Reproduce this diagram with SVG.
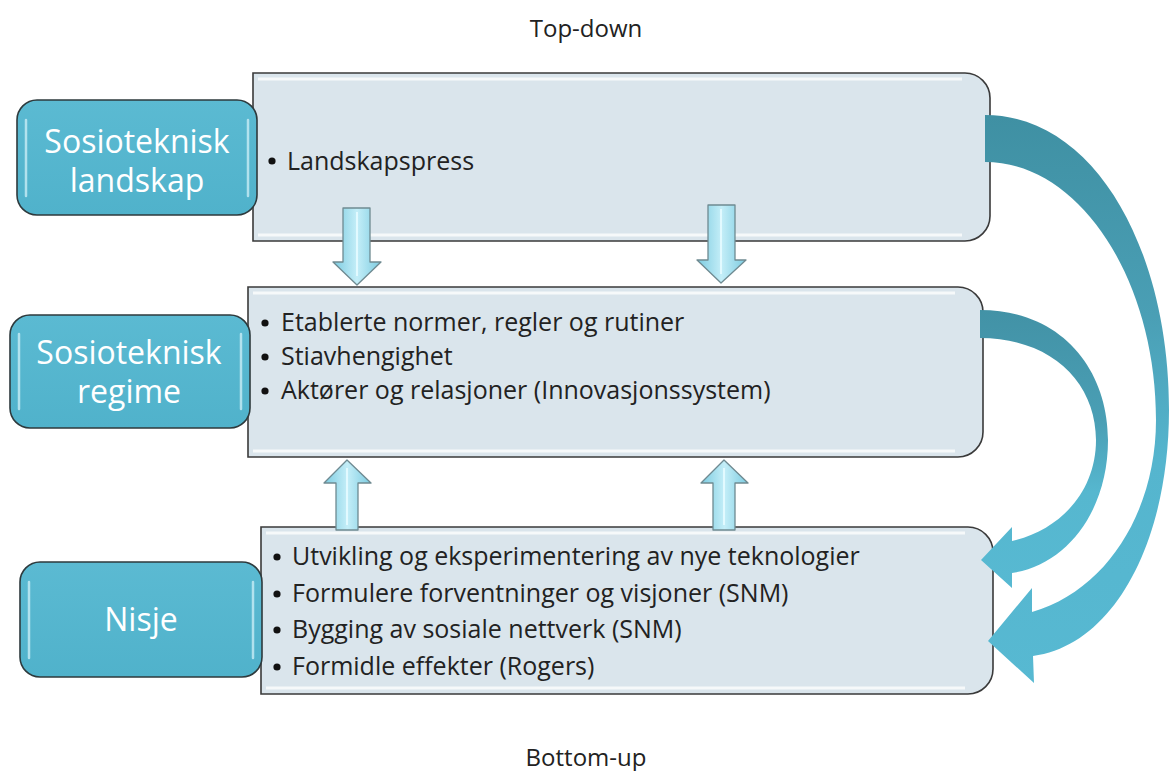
<svg xmlns="http://www.w3.org/2000/svg" width="1171" height="771" viewBox="0 0 1171 771">
<style>
.big{fill:#DAE5EC;stroke:#3a3a3a;stroke-width:1.6}
.bevel{fill:none;stroke:#ffffff;stroke-opacity:0.75;stroke-width:3}
.small{fill:url(#gSmall);stroke:#2e3a3d;stroke-width:1.6}
.hl{fill:none;stroke:#d8f4fb;stroke-width:2.5;stroke-linecap:round;opacity:0.7}
.lab{font-family:"Open Sans","Liberation Sans",sans-serif;font-size:32px;fill:#ffffff;text-anchor:middle}
.txt{font-family:"Open Sans","Liberation Sans",sans-serif;font-size:25px;fill:#222222}
.bul{fill:#111111}
.cap{font-family:"Open Sans","Liberation Sans",sans-serif;font-size:24px;fill:#222222;text-anchor:middle}
.blk{fill:url(#gBlk);stroke:#6f8a91;stroke-width:1.3;stroke-linejoin:round}
.blkhl{fill:none;stroke:#e6fbff;stroke-width:2;opacity:0.9}
</style>
<defs>
<linearGradient id="gSmall" x1="0" y1="0" x2="0" y2="1">
<stop offset="0" stop-color="#5BBAD2"/>
<stop offset="1" stop-color="#50B2CB"/>
</linearGradient>
<linearGradient id="gBlk" x1="0" y1="0" x2="1" y2="0">
<stop offset="0" stop-color="#7CCBE0"/>
<stop offset="0.5" stop-color="#C4EEF8"/>
<stop offset="1" stop-color="#7CCBE0"/>
</linearGradient>
<linearGradient id="gArcBig" gradientUnits="userSpaceOnUse" x1="0" y1="115" x2="0" y2="690">
<stop offset="0" stop-color="#3F90A3"/>
<stop offset="0.35" stop-color="#4A9FB5"/>
<stop offset="0.6" stop-color="#55B5CE"/>
<stop offset="1" stop-color="#57B9D2"/>
</linearGradient>
<linearGradient id="gArcSmall" gradientUnits="userSpaceOnUse" x1="0" y1="310" x2="0" y2="590">
<stop offset="0" stop-color="#4292A6"/>
<stop offset="0.4" stop-color="#4A9FB5"/>
<stop offset="0.65" stop-color="#56B7CF"/>
<stop offset="1" stop-color="#57B9D2"/>
</linearGradient>
</defs>

<text class="cap" x="586" y="37">Top-down</text>
<text class="cap" x="586" y="766">Bottom-up</text>

<g id="landskap-box">
<path class="big" d="M253,73 H965 A25,25 0 0 1 990,98 V216 A25,25 0 0 1 965,241 H253 Z"/>
<path class="bevel" d="M258,79 H962 M258,235 H962"/>
<circle class="bul" cx="272" cy="161" r="3.6"/>
<text class="txt" x="287" y="170">Landskapspress</text>
</g>

<g id="regime-box">
<path class="big" d="M248,287 H958 A25,25 0 0 1 983,312 V432 A25,25 0 0 1 958,457 H248 Z"/>
<path class="bevel" d="M253,293 H955 M253,451 H955"/>
<circle class="bul" cx="265" cy="323" r="3.6"/>
<circle class="bul" cx="265" cy="357" r="3.6"/>
<circle class="bul" cx="265" cy="391" r="3.6"/>
<text class="txt" x="281" y="331">Etablerte normer, regler og rutiner</text>
<text class="txt" x="281" y="365">Stiavhengighet</text>
<text class="txt" x="281" y="399">Aktører og relasjoner (Innovasjonssystem)</text>
</g>

<g id="nisje-box">
<path class="big" d="M261,527 H968 A25,25 0 0 1 993,552 V669 A25,25 0 0 1 968,694 H261 Z"/>
<path class="bevel" d="M266,533 H965 M266,688 H965"/>
<circle class="bul" cx="277" cy="557" r="3.6"/>
<circle class="bul" cx="277" cy="594" r="3.6"/>
<circle class="bul" cx="277" cy="630" r="3.6"/>
<circle class="bul" cx="277" cy="667" r="3.6"/>
<text class="txt" x="292" y="565">Utvikling og eksperimentering av nye teknologier</text>
<text class="txt" x="292" y="602">Formulere forventninger og visjoner (SNM)</text>
<text class="txt" x="292" y="638">Bygging av sosiale nettverk (SNM)</text>
<text class="txt" x="292" y="675">Formidle effekter (Rogers)</text>
</g>

<g id="landskap-label">
<rect class="small" x="17" y="100" width="240" height="115" rx="20"/>
<path class="hl" d="M26,120 V196 M248,120 V196"/>
<text class="lab" x="137" y="153">Sosioteknisk</text>
<text class="lab" x="137" y="192">landskap</text>
</g>

<g id="regime-label">
<rect class="small" x="10" y="315" width="240" height="113" rx="20"/>
<path class="hl" d="M19,334 V409 M241,334 V409"/>
<text class="lab" x="129" y="364">Sosioteknisk</text>
<text class="lab" x="129" y="403">regime</text>
</g>

<g id="nisje-label">
<rect class="small" x="20" y="562" width="242" height="115" rx="20"/>
<path class="hl" d="M29,582 V658 M253,582 V658"/>
<text class="lab" x="141" y="631">Nisje</text>
</g>

<g id="connectors">
<g id="down-arrow-1">
<path class="blk" d="M343,208 H370 V262 H381 L357,285 L333,262 H343 Z"/>
<path class="blkhl" d="M357,212 V276"/>
</g>
<g id="down-arrow-2">
<path class="blk" d="M708,205 H735 V260 H746 L721,283 L697,260 H708 Z"/>
<path class="blkhl" d="M721,209 V274"/>
</g>
<g id="up-arrow-1">
<path class="blk" d="M336,530 V483 H324 L347,460 L371,483 H358 V530 Z"/>
<path class="blkhl" d="M347,468 V525"/>
</g>
<g id="up-arrow-2">
<path class="blk" d="M713,530 V483 H701 L724,460 L748,483 H735 V530 Z"/>
<path class="blkhl" d="M724,468 V525"/>
</g>
<g id="arc-big">
<path fill="url(#gArcBig)" d="M985,115 C1095,115 1169,250 1169,410 C1169,540 1115,645 1033,656 L1034,683 L988,641 L1032,588 L1032,612 C1108,590 1156,510 1156,420 C1156,280 1080,162 985,162 Z"/>
</g>
<g id="arc-small">
<path fill="url(#gArcSmall)" d="M980,310 C1062,310 1108,370 1108,440 C1108,512 1066,565 1012,573 L1012,588 L981,560 L1012,527 L1012,541 C1060,530 1096,492 1096,440 C1096,383 1052,338 980,338 Z"/>
</g>
</g>
</svg>
